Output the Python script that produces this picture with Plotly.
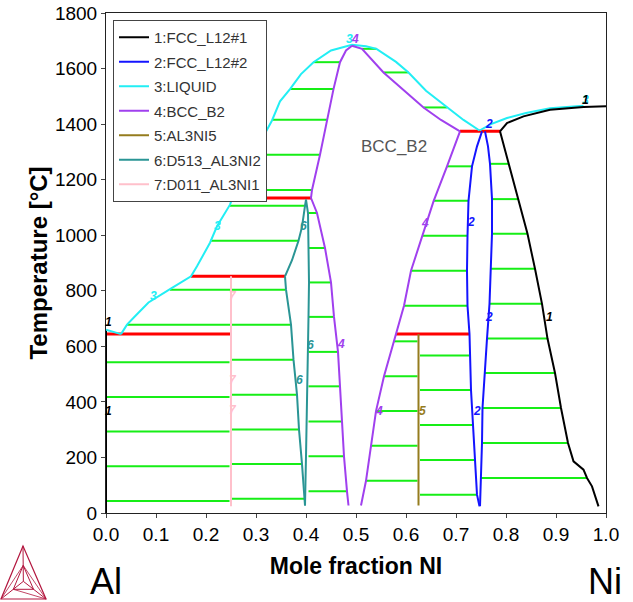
import plotly.graph_objects as go

# ---------------- data (mole fraction Ni, temperature in °C) ----------------
# FCC_L12#1 (black)
fcc1_al_x = [0.0, 0.0, 0.0]
fcc1_al_T = [660, 644, 0]
fcc1_top_x = [0.788, 0.802, 0.835, 0.888, 0.955, 1.0]
fcc1_top_T = [1374, 1404, 1428, 1452, 1462, 1464]
fcc1_solvus_x = [0.788, 0.805, 0.825, 0.843, 0.858, 0.872, 0.883, 0.898, 0.91, 0.924, 0.935, 0.945, 0.955, 0.962, 0.972, 0.985]
fcc1_solvus_T = [1374, 1257, 1130, 1005, 879, 753, 628, 504, 378, 252, 186, 170, 156, 126, 96, 24]

# FCC_L12#2 (blue)
fcc2_left_x = [0.752, 0.742, 0.732, 0.725, 0.723, 0.722, 0.723, 0.727, 0.73, 0.734, 0.738, 0.742, 0.747]
fcc2_left_T = [1374, 1320, 1248, 1124, 998, 872, 746, 644, 443, 317, 191, 66, 24]
fcc2_right_x = [0.758, 0.764, 0.768, 0.772, 0.772, 0.77, 0.767, 0.762, 0.757, 0.753, 0.752, 0.75, 0.748]
fcc2_right_T = [1374, 1320, 1257, 1130, 1005, 879, 753, 628, 504, 378, 252, 126, 24]

# LIQUID (cyan)
liq_al_x = [0.0, 0.03]
liq_al_T = [660, 644]
liq_main_x = [0.03, 0.042, 0.06, 0.085, 0.128, 0.17, 0.182, 0.208, 0.222, 0.248, 0.253, 0.28, 0.31, 0.332,
              0.348, 0.368, 0.39, 0.415, 0.45, 0.492, 0.52, 0.541, 0.58, 0.605, 0.64, 0.682, 0.715, 0.747]
liq_main_T = [644, 678, 712, 758, 806, 852, 888, 973, 1032, 1110, 1134, 1240, 1340, 1413,
              1482, 1526, 1580, 1623, 1665, 1686, 1680, 1671, 1624, 1586, 1520, 1460, 1415, 1377]
liq_ni_x = [0.747, 0.77, 0.802, 0.84, 0.888, 0.955]
liq_ni_T = [1377, 1400, 1422, 1440, 1457, 1466]

# BCC_B2 (purple)
b2_left_up_x = [0.41, 0.412, 0.428, 0.442, 0.455, 0.468, 0.48, 0.492]
b2_left_up_T = [1134, 1163, 1290, 1416, 1526, 1623, 1665, 1682]
b2_right_up_x = [0.492, 0.512, 0.555, 0.60, 0.635, 0.67, 0.708]
b2_right_up_T = [1682, 1671, 1586, 1515, 1460, 1415, 1374]
b2_left_low_x = [0.41, 0.415, 0.422, 0.438, 0.45, 0.456, 0.464, 0.468, 0.472, 0.476, 0.482, 0.485]
b2_left_low_T = [1134, 1110, 1080, 954, 830, 706, 580, 456, 329, 204, 78, 27]
b2_right_low_x = [0.708, 0.695, 0.682, 0.655, 0.633, 0.61, 0.596, 0.58, 0.556, 0.54, 0.53, 0.52, 0.51]
b2_right_low_T = [1374, 1310, 1248, 1122, 998, 872, 746, 644, 492, 367, 242, 116, 27]

# AL3NI5 (olive)
al3ni5_x = [0.625, 0.625]
al3ni5_T = [644, 27]

# D513_AL3NI2 (teal)
al3ni2_left_up_x = [0.358, 0.372, 0.385, 0.392, 0.398, 0.4]
al3ni2_left_up_T = [852, 910, 980, 1030, 1106, 1128]
al3ni2_left_low_x = [0.358, 0.36, 0.37, 0.375, 0.382, 0.386, 0.392, 0.396, 0.398]
al3ni2_left_low_T = [852, 804, 678, 552, 426, 301, 176, 51, 27]
al3ni2_right_x = [0.4, 0.404, 0.405, 0.406, 0.405, 0.404, 0.402, 0.4, 0.398]
al3ni2_right_T = [1128, 1080, 954, 830, 706, 580, 456, 204, 27]

# D011_AL3NI1 (pink)
al3ni_x = [0.25, 0.25]
al3ni_T = [852, 24]

# invariant lines (red)
inv_T = [644, 852, 1134, 644, 1374]
inv_x1 = [0.0, 0.17, 0.253, 0.58, 0.708]
inv_x2 = [0.25, 0.358, 0.41, 0.727, 0.788]

# tie lines (green)
tie_T = [543, 418, 293, 168, 43,
         678, 804,
         804, 678, 552, 426, 301, 176, 51,
         980, 1106,
         1163, 1290, 1416, 1526, 1623,
         1671, 1586, 1460,
         1080, 954, 830, 706, 580, 456, 329, 204, 78,
         1248, 1124, 998, 872, 746,
         618, 492, 367, 242, 116,
         567, 443, 317, 191, 66,
         1257, 1130, 1005, 879, 753, 628, 504, 378, 252, 126]
tie_x1 = [0.0, 0.0, 0.0, 0.0, 0.0,
          0.042, 0.128,
          0.252, 0.252, 0.252, 0.252, 0.252, 0.252, 0.252,
          0.208, 0.248,
          0.265, 0.29, 0.332, 0.368, 0.415,
          0.512, 0.555, 0.635,
          0.405, 0.405, 0.405, 0.405, 0.405, 0.405, 0.405, 0.405, 0.405,
          0.682, 0.655, 0.633, 0.61, 0.596,
          0.576, 0.556, 0.54, 0.53, 0.52,
          0.628, 0.628, 0.628, 0.628, 0.628,
          0.768, 0.772, 0.772, 0.77, 0.767, 0.762, 0.757, 0.753, 0.752, 0.75]
tie_x2 = [0.247, 0.247, 0.247, 0.247, 0.247,
          0.248, 0.248,
          0.358, 0.37, 0.375, 0.382, 0.386, 0.392, 0.396,
          0.385, 0.398,
          0.412, 0.428, 0.442, 0.455, 0.468,
          0.541, 0.605, 0.682,
          0.422, 0.438, 0.45, 0.456, 0.464, 0.468, 0.472, 0.476, 0.482,
          0.732, 0.725, 0.724, 0.723, 0.722,
          0.623, 0.623, 0.623, 0.623, 0.623,
          0.727, 0.73, 0.733, 0.738, 0.742,
          0.805, 0.825, 0.843, 0.858, 0.872, 0.883, 0.898, 0.91, 0.924, 0.962]

# line labels
lab_text = ["1", "1", "1", "3", "1",
            "3", "3", "3",
            "4", "4", "4", "4",
            "5",
            "6", "6", "6",
            "7", "7", "7",
            "2", "2", "2", "2"]
lab_x = [0.004, 0.004, 0.886, 0.958, 0.959,
         0.094, 0.222, 0.486,
         0.498, 0.47, 0.638, 0.545,
         0.632,
         0.395, 0.408, 0.387,
         0.254, 0.254, 0.254,
         0.73, 0.766, 0.742, 0.765]
lab_T = [689, 369, 704, 1488, 1488,
         780, 1032, 1706,
         1706, 608, 1044, 368,
         368,
         1032, 606, 480,
         780, 480, 372,
         1046, 704, 368, 1400]

legend_names = ["1:FCC_L12#1", "2:FCC_L12#2", "3:LIQUID", "4:BCC_B2", "5:AL3NI5", "6:D513_AL3NI2", "7:D011_AL3NI1"]

# ---------------- styling ----------------
C_BLACK = "#000000"
C_BLUE = "#1414ff"
C_CYAN = "#22eef4"
C_PURPLE = "#a040ee"
C_OLIVE = "#957c1e"
C_TEAL = "#2a9595"
C_PINK = "#ffc0cb"
C_GREEN = "#16ee16"
C_RED = "#ff0000"
lab_colors = {"1": C_BLACK, "2": C_BLUE, "3": C_CYAN, "4": C_PURPLE, "5": C_OLIVE, "6": C_TEAL, "7": C_PINK}
FONT = "Liberation Sans, Arial, sans-serif"

fig = go.Figure()

# green tie lines
gx, gy = [], []
for a, b, t in zip(tie_x1, tie_x2, tie_T):
    gx += [a, b, None]
    gy += [t, t, None]
fig.add_trace(go.Scatter(x=gx, y=gy, mode="lines", line=dict(color=C_GREEN, width=2),
                         showlegend=False, hoverinfo="skip"))

# red invariant lines
rx, ry = [], []
for a, b, t in zip(inv_x1, inv_x2, inv_T):
    rx += [a, b, None]
    ry += [t, t, None]
fig.add_trace(go.Scatter(x=rx, y=ry, mode="lines", line=dict(color=C_RED, width=3),
                         showlegend=False, hoverinfo="skip"))

phases = [
    (legend_names[0], C_BLACK, [(fcc1_al_x, fcc1_al_T), (fcc1_solvus_x, fcc1_solvus_T)]),
    (legend_names[1], C_BLUE, [(fcc2_left_x, fcc2_left_T), (fcc2_right_x, fcc2_right_T)]),
    (legend_names[2], C_CYAN, [(liq_al_x, liq_al_T), (liq_main_x, liq_main_T), (liq_ni_x, liq_ni_T)]),
    (legend_names[3], C_PURPLE, [(b2_left_up_x, b2_left_up_T), (b2_right_up_x, b2_right_up_T),
                                 (b2_left_low_x, b2_left_low_T), (b2_right_low_x, b2_right_low_T)]),
    (legend_names[4], C_OLIVE, [(al3ni5_x, al3ni5_T)]),
    (legend_names[5], C_TEAL, [(al3ni2_left_up_x, al3ni2_left_up_T), (al3ni2_left_low_x, al3ni2_left_low_T),
                               (al3ni2_right_x, al3ni2_right_T)]),
    (legend_names[6], C_PINK, [(al3ni_x, al3ni_T)]),
]

for i, (name, col, segs) in enumerate(phases):
    xs, ts = [], []
    for sx, st in segs:
        xs += list(sx) + [None]
        ts += list(st) + [None]
    fig.add_trace(go.Scatter(x=xs, y=ts, mode="lines", name=name, line=dict(color=col, width=2),
                             legendgroup=f"g{i}", hoverinfo="skip"))

# black liquidus drawn above cyan on Ni side
fig.add_trace(go.Scatter(x=fcc1_top_x, y=fcc1_top_T, mode="lines", line=dict(color=C_BLACK, width=2),
                         showlegend=False, legendgroup="g0", hoverinfo="skip"))

annotations = []
for t, x, T in zip(lab_text, lab_x, lab_T):
    annotations.append(dict(x=x, y=T, xref="x", yref="y", text=f"<b><i>{t}</i></b>", showarrow=False,
                            font=dict(family=FONT, size=12, color=lab_colors[t])))

annotations.append(dict(x=0.575, y=1319, xref="x", yref="y", text="BCC_B2", showarrow=False,
                        font=dict(family=FONT, size=17, color="#555555")))

# pixel helpers for paper coordinates (plot area: x 106..606, y 13..513)
def px(p):
    return (p - 106) / 500.0

def py(p):
    return (513 - p) / 500.0

annotations.append(dict(x=px(106), y=py(581), xref="paper", yref="paper", text="Al", showarrow=False,
                        xanchor="center", yanchor="middle",
                        font=dict(family=FONT, size=36, color="#000000")))
annotations.append(dict(x=px(605), y=py(581), xref="paper", yref="paper", text="Ni", showarrow=False,
                        xanchor="center", yanchor="middle",
                        font=dict(family=FONT, size=36, color="#000000")))

# Thermo-Calc style logo
A = (23, 546)
B = (1, 599)
Cc = (46, 599)
G = ((A[0] + B[0] + Cc[0]) / 3, (A[1] + B[1] + Cc[1]) / 3)
def mid(p, q, f):
    return (p[0] + (q[0] - p[0]) * f, p[1] + (q[1] - p[1]) * f)
iA, iB, iC = mid(G, A, 0.45), mid(G, B, 0.45), mid(G, Cc, 0.45)
def path(pts, close=False):
    s = "M " + " L ".join(f"{px(p[0]):.4f},{py(p[1]):.4f}" for p in pts)
    return s + (" Z" if close else "")
logo_col = "#b3173f"
shapes = [
    dict(type="path", xref="paper", yref="paper", path=path([A, B, Cc], True), line=dict(color=logo_col, width=1.2)),
    dict(type="path", xref="paper", yref="paper", path=path([iA, iB, iC], True), line=dict(color=logo_col, width=1)),
    dict(type="path", xref="paper", yref="paper", path=path([A, G]), line=dict(color=logo_col, width=1)),
    dict(type="path", xref="paper", yref="paper", path=path([B, G]), line=dict(color=logo_col, width=1)),
    dict(type="path", xref="paper", yref="paper", path=path([Cc, G]), line=dict(color=logo_col, width=1)),
    dict(type="path", xref="paper", yref="paper", path=path([iA, B]), line=dict(color=logo_col, width=0.8)),
    dict(type="path", xref="paper", yref="paper", path=path([iA, Cc]), line=dict(color=logo_col, width=0.8)),
    dict(type="path", xref="paper", yref="paper", path=path([iB, Cc]), line=dict(color=logo_col, width=0.8)),
]

fig.update_layout(
    width=633, height=602,
    margin=dict(l=106, r=27, t=13, b=89, autoexpand=False),
    paper_bgcolor="white", plot_bgcolor="white",
    font=dict(family=FONT, color="#000000"),
    showlegend=True,
    legend=dict(x=px(113), y=py(20), xanchor="left", yanchor="top",
                bgcolor="white", bordercolor="#444444", borderwidth=1,
                font=dict(family=FONT, size=15, color="#333333"),
                tracegroupgap=2, traceorder="grouped"),
    annotations=annotations,
    shapes=shapes,
)
fig.update_xaxes(range=[0, 1], dtick=0.1, tickformat=".1f", showgrid=False, zeroline=False,
                 showline=True, mirror=True, linecolor="#222222", linewidth=1,
                 ticks="outside", ticklen=4, tickcolor="#444444", automargin=False,
                 tickfont=dict(size=19, color="#000000"),
                 title=dict(text="<b>Mole fraction NI</b>", font=dict(size=23, color="#000000"), standoff=14))
fig.update_yaxes(range=[0, 1800], dtick=200, showgrid=False, zeroline=False,
                 showline=True, mirror=True, linecolor="#222222", linewidth=1,
                 ticks="outside", ticklen=4, tickcolor="#444444", automargin=False,
                 tickfont=dict(size=19, color="#000000"),
                 title=dict(text="<b>Temperature [°C]</b>", font=dict(size=24, color="#000000"), standoff=0))

fig.write_html("out.html")
